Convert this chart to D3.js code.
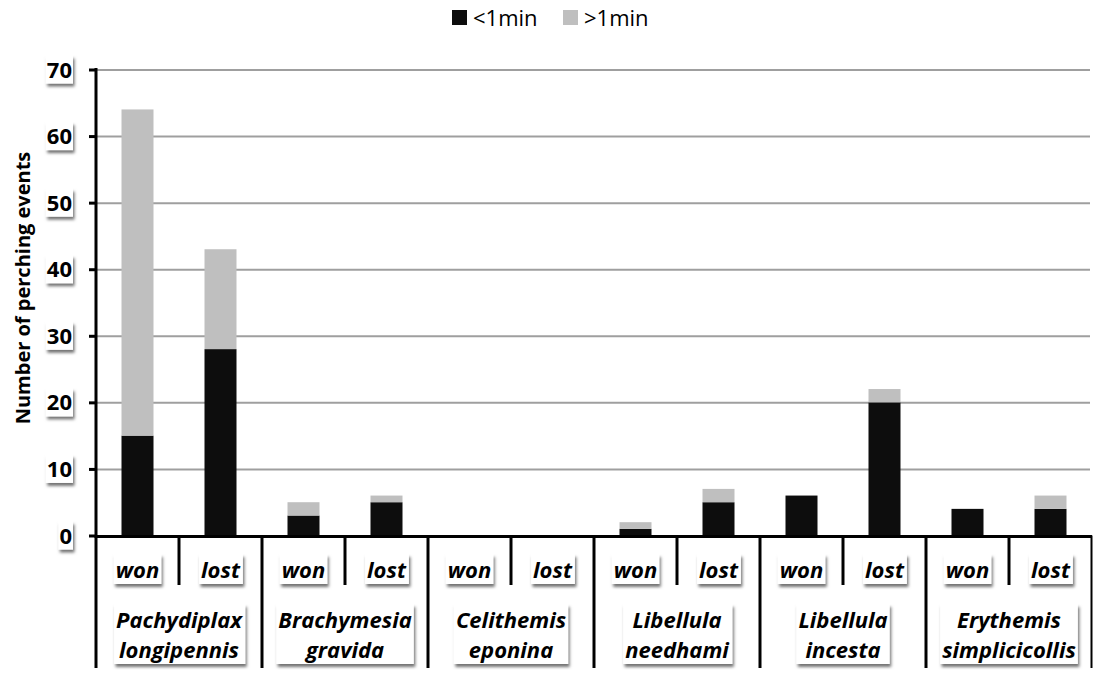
<!DOCTYPE html>
<html>
<head>
<meta charset="utf-8">
<script src="https://cdn.jsdelivr.net/npm/d3@7"></script>
<style>
  body { margin: 0; background: #fff; }
  svg { font-family: "Open Sans", sans-serif; }
</style>
</head>
<body>
<svg width="1094" height="677"></svg>
<script>
var species  = ["Pachydiplax longipennis", "Brachymesia gravida", "Celithemis eponina",
                "Libellula needhami", "Libellula incesta", "Erythemis simplicicollis"];
var outcomes = ["won", "lost"];
// values in species order, won then lost
var under1min = [15, 28, 3, 5, 0, 0, 1, 5, 6, 20, 4, 4];
var over1min  = [49, 15, 2, 1, 0, 0, 1, 2, 0, 2, 0, 2];
var seriesNames = ["<1min", ">1min"];
var yTicks = [0, 10, 20, 30, 40, 50, 60, 70];

var svg = d3.select("svg");

// drop shadow for the label boxes
var defs = svg.append("defs");
defs.append("filter").attr("id", "shadow")
    .attr("x", "-20%").attr("y", "-20%").attr("width", "150%").attr("height", "160%")
  .append("feDropShadow")
    .attr("dx", 1.5).attr("dy", 3).attr("stdDeviation", 1.8)
    .attr("flood-color", "#000").attr("flood-opacity", 0.55);

var plotL = 96, plotR = 1092, plotT = 69.5, plotB = 535.5;

var rows = [];
species.forEach(function(s, i) {
  outcomes.forEach(function(o, j) {
    var k = i * 2 + j;
    rows.push({key: s + "|" + o, species: s, outcome: o, "<1min": under1min[k], ">1min": over1min[k]});
  });
});

var y = d3.scaleLinear().domain([0, 70]).range([plotB, plotT]);
var slot = d3.scaleBand().domain(rows.map(d => d.key)).range([plotL, plotR]).padding(0);
var group = d3.scaleBand().domain(species).range([plotL, plotR]).padding(0);
var color = d3.scaleOrdinal().domain(seriesNames).range(["#0d0d0d", "#bfbfbf"]);
var barW = 32;

// gridlines
svg.append("g")
  .attr("transform", "translate(" + plotL + ",0)")
  .call(d3.axisRight(y).tickValues(yTicks.filter(d => d > 0)).tickSize(plotR - plotL - 2).tickFormat(""))
  .call(g => g.select(".domain").remove())
  .selectAll("line").attr("stroke", "#9f9f9f").attr("stroke-width", 2);

// stacked bars
var stacked = d3.stack().keys(seriesNames)(rows);
svg.append("g").selectAll("g")
  .data(stacked)
  .enter().append("g")
    .attr("fill", d => color(d.key))
  .selectAll("rect")
  .data(d => d)
  .enter().append("rect")
    .attr("x", d => slot(d.data.key) + (slot.bandwidth() - barW) / 2)
    .attr("y", d => y(d[1]))
    .attr("width", barW)
    .attr("height", d => y(d[0]) - y(d[1]));

// y axis
var yAxis = svg.append("g")
  .attr("transform", "translate(" + plotL + ",0)")
  .call(d3.axisLeft(y).tickValues(yTicks).tickSize(7).tickPadding(0).tickFormat(""));
yAxis.select(".domain").attr("stroke", "#000").attr("stroke-width", 3)
  .attr("d", "M0," + (plotT - 1.5) + "V" + (plotB + 1.5));
yAxis.selectAll(".tick line").attr("stroke", "#000").attr("stroke-width", 3);

// text in a white box with a drop shadow
function boxedText(parent, x, yy, lines, opts) {
  var g = parent.append("g");
  var rect = g.append("rect").attr("fill", "#fff").attr("filter", "url(#shadow)");
  var t = g.append("text")
    .attr("text-anchor", opts.anchor)
    .attr("font-size", opts.size)
    .attr("font-weight", "bold")
    .attr("font-style", opts.italic ? "italic" : "normal")
    .attr("fill", "#000");
  lines.forEach(function(l, i) {
    t.append("tspan").attr("x", x).attr("y", yy + i * opts.lh).text(l);
  });
  var b = t.node().getBBox();
  rect.attr("x", b.x - opts.padX).attr("y", b.y + opts.padTop)
    .attr("width", b.width + 2 * opts.padX).attr("height", b.height - opts.padTop + opts.padBot);
  return g;
}

yTicks.forEach(function(v) {
  boxedText(svg, 72, y(v) + 8, [String(v)], {anchor: "end", size: 22, italic: false, lh: 0, padX: 1, padTop: 2, padBot: 0});
});

// x axis baseline
svg.append("line")
  .attr("x1", plotL - 1.5).attr("x2", plotR).attr("y1", plotB + 1).attr("y2", plotB + 1)
  .attr("stroke", "#000").attr("stroke-width", 3);

// inner separators (between won / lost)
svg.append("g").selectAll("line")
  .data(species)
  .enter().append("line")
    .attr("x1", d => group(d) + group.bandwidth() / 2)
    .attr("x2", d => group(d) + group.bandwidth() / 2)
    .attr("y1", plotB).attr("y2", 585)
    .attr("stroke", "#000").attr("stroke-width", 3);

// outer separators (between species)
var edges = species.map(d => group(d)).concat([plotR - 0.5]);
svg.append("g").selectAll("line")
  .data(edges)
  .enter().append("line")
    .attr("x1", d => d).attr("x2", d => d)
    .attr("y1", plotB).attr("y2", 668)
    .attr("stroke", "#000")
    .attr("stroke-width", (d, i) => i === edges.length - 1 ? 2 : 3);

// category labels
rows.forEach(function(d) {
  boxedText(svg, slot(d.key) + slot.bandwidth() / 2, 578, [d.outcome],
    {anchor: "middle", size: 22, italic: true, lh: 0, padX: 2, padTop: 0, padBot: 0});
});
species.forEach(function(s) {
  boxedText(svg, group(s) + group.bandwidth() / 2, 628, s.split(" "),
    {anchor: "middle", size: 22, italic: true, lh: 30, padX: 2, padTop: 0, padBot: 0});
});

// y title
svg.append("text")
  .attr("transform", "translate(30,288) rotate(-90)")
  .attr("text-anchor", "middle")
  .attr("font-size", 20)
  .attr("font-weight", "bold")
  .attr("fill", "#000")
  .text("Number of perching events");

// legend
var legend = svg.append("g").selectAll("g")
  .data(seriesNames)
  .enter().append("g")
    .attr("transform", (d, i) => "translate(" + (452 + i * 111) + ",0)");
legend.append("rect")
  .attr("x", 0).attr("y", 10).attr("width", 15).attr("height", 15)
  .attr("fill", d => color(d));
legend.append("text")
  .attr("x", 21).attr("y", 26)
  .attr("font-size", 22)
  .attr("fill", "#000")
  .text(d => d);
</script>
</body>
</html>
